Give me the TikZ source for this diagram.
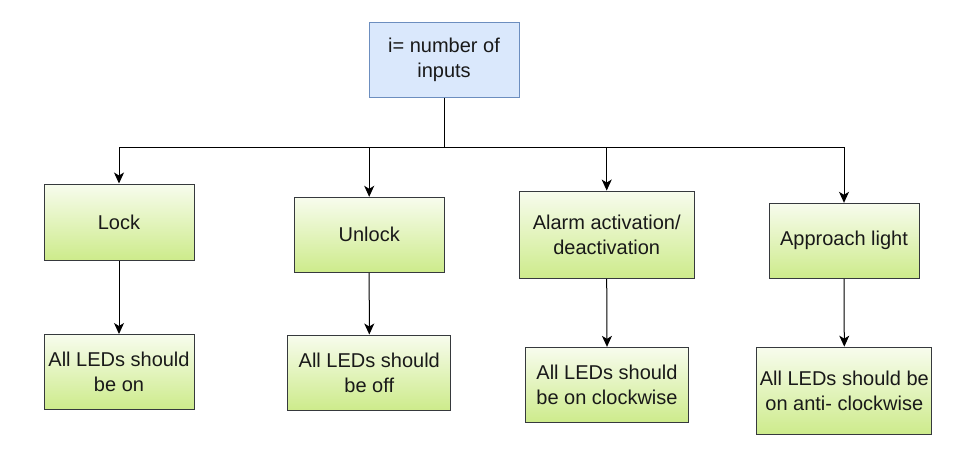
\documentclass[tikz,border=0pt]{standalone}
\usepackage{fontspec}
\setmainfont{Liberation Sans}
\usetikzlibrary{arrows.meta}
\definecolor{bluefill}{HTML}{DAE8FC}
\definecolor{blueline}{HTML}{6C8EBF}
\definecolor{greenfill}{HTML}{CDEB8B}
\definecolor{greenline}{HTML}{36393D}
\begin{document}
\begin{tikzpicture}[x=1pt,y=-1pt,
  box/.style={draw=greenline, line width=1pt, top color=greenfill!15!white, bottom color=greenfill,
    inner sep=0pt, align=center, text=black!90, font=\fontsize{20}{25}\selectfont},
  topbox/.style={draw=blueline, line width=1pt, fill=bluefill,
    inner sep=0pt, align=center, text=black!90, font=\fontsize{20}{25}\selectfont},
  conn/.style={line width=1pt, black},
  arr/.style={conn, -{Stealth[length=11pt,width=10pt,inset=3pt]}}]
\useasboundingbox (0,0) rectangle (963,468);
\node[topbox, minimum width=150pt, minimum height=75pt] (top) at (444,59.7) {i= number of\\inputs};
\node[box, minimum width=150pt, minimum height=76pt] (lock) at (119,222) {Lock};
\node[box, minimum width=150pt, minimum height=75pt] (lockr) at (119,372) {All LEDs should\\be on};
\node[box, minimum width=150pt, minimum height=75pt] (unlock) at (369.2,234.8) {Unlock};
\node[box, minimum width=162.7pt, minimum height=75pt] (unlockr) at (369.3,372.5) {All LEDs should\\be off};
\node[box, minimum width=175.3pt, minimum height=87.3pt] (alarm) at (606.7,234.7) {Alarm activation/\\deactivation};
\node[box, minimum width=162.7pt, minimum height=75.3pt] (alarmr) at (607,385) {All LEDs should\\be on clockwise};
\node[box, minimum width=150pt, minimum height=75pt] (appr) at (844,240.8) {Approach light};
\node[box, minimum width=174.7pt, minimum height=87.7pt] (apprr) at (844.3,391) {All LEDs should be\\on anti- clockwise};
\coordinate (jt) at (444,147);
\coordinate (j1) at (119,147);
\coordinate (j2) at (369.2,147);
\coordinate (j3) at (606.7,147);
\coordinate (j4) at (844,147);
\draw[conn] (top.south) -- (jt);
\draw[conn] (j1) -- (j4);
\draw[arr] (j1) -- (lock.north);
\draw[arr] (j2) -- (unlock.north);
\draw[arr] (j3) -- (alarm.north);
\draw[arr] (j4) -- (appr.north);
\draw[arr] (lock.south) -- (lockr.north);
\draw[arr] (unlock.south) -- (unlockr.north);
\draw[arr] (alarm.south) -- (alarmr.north);
\draw[arr] (appr.south) -- (apprr.north);
\end{tikzpicture}
\end{document}
